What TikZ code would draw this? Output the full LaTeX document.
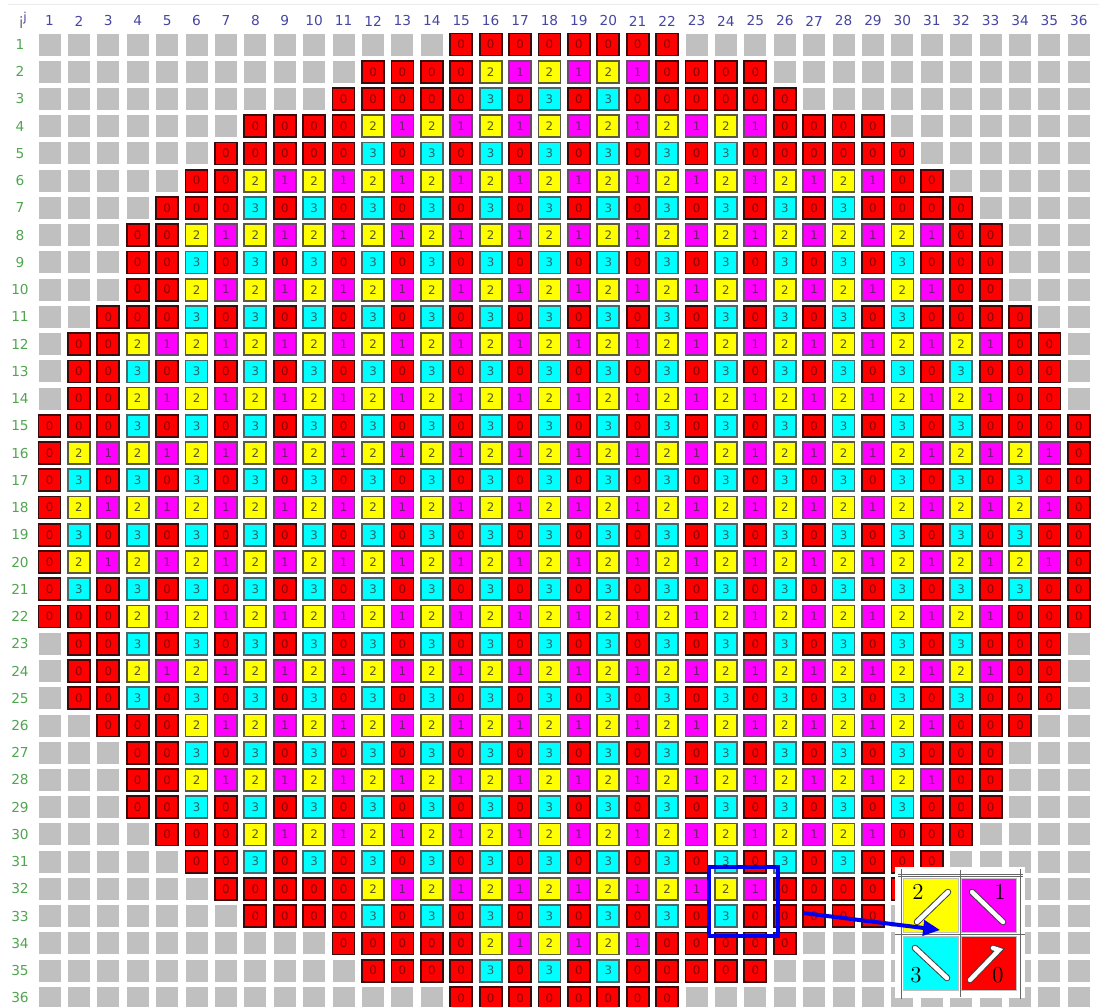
\documentclass[tikz,border=0pt]{standalone}
\usepackage{fontspec}
\newfontfamily\gridfont{DejaVu Sans}
\usetikzlibrary{arrows.meta,shapes.misc}

\definecolor{cellgray}{RGB}{192,192,192}
\definecolor{hdblue}{RGB}{70,70,160}
\definecolor{hdgreen}{RGB}{80,165,80}
\definecolor{selblue}{RGB}{0,0,240}
\definecolor{tile0}{RGB}{255,0,0}
\definecolor{tile1}{RGB}{255,0,255}
\definecolor{tile2}{RGB}{255,255,0}
\definecolor{tile3}{RGB}{0,255,255}
\definecolor{edge0}{RGB}{60,10,10}
\definecolor{edge1}{RGB}{110,70,110}
\definecolor{edge2}{RGB}{90,90,60}
\definecolor{edge3}{RGB}{70,105,105}
\definecolor{ink0}{RGB}{140,0,0}
\definecolor{ink1}{RGB}{110,30,110}
\definecolor{ink2}{RGB}{85,85,20}
\definecolor{ink3}{RGB}{40,100,100}

\tikzset{
  cell/.style={minimum size=4.4mm, inner sep=0pt, outer sep=0pt,
    font=\gridfont\fontsize{6.7}{7}\selectfont},
  blank/.style={cell, fill=cellgray},
  tile/.style={cell, fill=tile#1, draw=edge#1, text=ink#1, line width=0.35mm},
  colhead/.style={font=\gridfont\fontsize{7.8}{8}\selectfont, text=hdblue, inner sep=0pt},
  rowhead/.style={font=\gridfont\fontsize{7.8}{8}\selectfont, text=hdgreen, inner sep=0pt},
  selbox/.style={draw=selblue, line width=0.8mm, minimum size=13.8mm, inner sep=0pt},
  selarrow/.style={draw=selblue, line width=0.8mm, -{Triangle[length=3.4mm,width=3mm]}},
  keytile/.style={chamfered rectangle, chamfered rectangle xsep=0.9mm,
    minimum width=11mm, minimum height=10.8mm, inner sep=0pt, draw=black!25, line width=0.2mm},
  keyline/.style={draw=black!60, line width=0.15mm},
  keystick/.style={draw=black!75, double=white, double distance=0.9mm, line width=0.2mm, line cap=round},
  keynum/.style={font=\fontsize{13}{13}\selectfont, inner sep=0pt}
}

\begin{document}
\begin{tikzpicture}[x=0.2mm,y=-0.2mm]
  \useasboundingbox (0,0) rectangle (1099,1007);
  \draw[black!8, line width=0.2mm] (8,4) -- (1099,4);

  \node[font=\gridfont\fontsize{9}{9}\selectfont, inner sep=0pt] (corner) at (23,20)
    {\textcolor{black!55}{i}\raisebox{0.8ex}{\textcolor{hdblue}{\fontsize{7}{7}\selectfont j}}};
  \foreach \j in {1,...,36}
    \node[colhead] (col-\j) at ({49.5+(\j-1)*29.41},21) {\j};
  \foreach \i in {1,...,36}
    \node[rowhead] (row-\i) at (20,{44.5+(\i-1)*27.24}) {\i};

  \foreach \i/\ro/\ri in {1/22/0, 2/25/21, 3/26/21, 4/29/25, 5/30/25, 6/31/29, 7/32/29,
      8/33/31, 9/33/31, 10/33/31, 11/34/31, 12/35/33, 13/35/33, 14/35/33, 15/36/33,
      16/36/35, 17/36/35, 18/36/35, 19/36/35, 20/36/35, 21/36/35, 22/36/33, 23/35/33,
      24/35/33, 25/35/33, 26/34/31, 27/33/31, 28/33/31, 29/33/31, 30/32/29, 31/31/29,
      32/30/25, 33/29/25, 34/26/21, 35/25/21, 36/22/0}{
    \foreach \j in {1,...,36}{
      \pgfmathtruncatemacro\dd{abs(2*\j-37)}
      \pgfmathtruncatemacro\v{(1-mod(\i,2))*(2-mod(\j,2))+mod(\i,2)*3*(1-mod(\j,2))}
      \ifnum\dd>\numexpr2*\ro-37\relax
        \node[blank] (c-\i-\j) at ({49.5+(\j-1)*29.41},{44.5+(\i-1)*27.24}) {};
      \else
        \ifnum\dd>\numexpr2*\ri-37\relax\def\v{0}\fi
        \node[tile=\v] (c-\i-\j) at ({49.5+(\j-1)*29.41},{44.5+(\i-1)*27.24}) {\v};
      \fi
    }
  }

  \node[selbox] (sel) at (743.5,901.5) {};

  \node[fill=white, minimum width=26mm, minimum height=26.2mm, inner sep=0pt] (keybg) at (960,932.5) {};
  \draw[keyline] (898,874) -- (1023,874);
  \draw[keyline] (898,876.5) -- (1023,876.5);
  \draw[keyline] (901,869) -- (901,999);
  \draw[keyline] (1020,869) -- (1020,999);
  \draw[keyline] (960.5,870) -- (960.5,997);
  \draw[keyline] (895,934.5) -- (1025,934.5);
  \node[keytile, fill=tile2] (key2) at (930.5,905) {};
  \node[keytile, fill=tile1] (key1) at (988.5,905) {};
  \node[keytile, fill=tile3] (key3) at (930.5,963.5) {};
  \node[keytile, fill=tile0] (key0) at (988.5,963.5) {};
  \draw[keystick] (917,922) -- (948,892);
  \draw[keystick] (972,892) -- (1003,922);
  \draw[keystick] (915,948) -- (947,978);
  \draw[keystick] (970,980) -- (999,950) -- (993,948);
  \node[keynum] (num2) at (918,892) {2};
  \node[keynum] (num1) at (1000,892) {1};
  \node[keynum] (num3) at (916,975) {3};
  \node[keynum] (num0) at (998,975) {0};

  \coordinate (tail) at (803,913);
  \draw[selarrow, shorten >=4mm] (tail) -- (keybg.center);
\end{tikzpicture}
\end{document}
